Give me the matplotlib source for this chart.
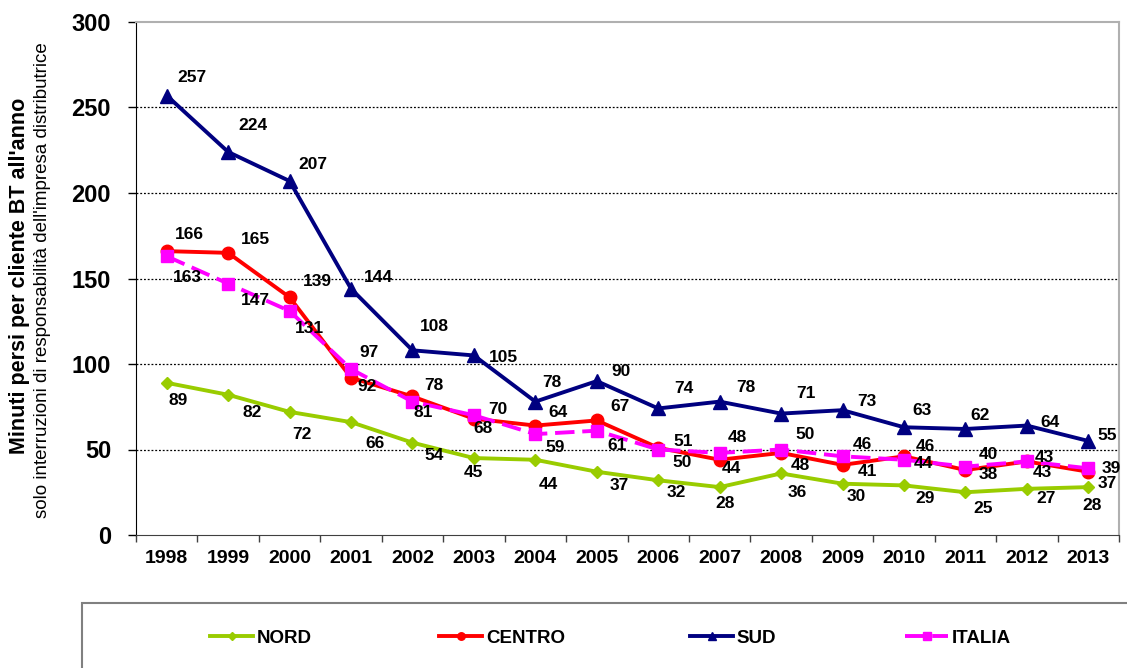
import matplotlib
matplotlib.use("Agg")
import matplotlib.pyplot as plt
from matplotlib.lines import Line2D
from matplotlib.patches import Rectangle

plt.rcParams['font.family'] = ['Liberation Sans', 'DejaVu Sans']

years = [str(y) for y in range(1998, 2014)]
nord = [89, 82, 72, 66, 54, 45, 44, 37, 32, 28, 36, 30, 29, 25, 27, 28]
centro = [166, 165, 139, 92, 81, 68, 64, 67, 51, 44, 48, 41, 46, 38, 43, 37]
sud = [257, 224, 207, 144, 108, 105, 78, 90, 74, 78, 71, 73, 63, 62, 64, 55]
italia = [163, 147, 131, 97, 78, 70, 59, 61, 50, 48, 50, 46, 44, 40, 43, 39]

# where each value label sits, pixels right / down from its point
off_nord = [(11, 18), (24, 18), (12, 23), (24, 21), (22, 13), (0, 14), (13, 25), (22, 14),
            (18, 12), (5, 16), (16, 19), (14, 13), (21, 13), (18, 16), (19, 10), (4, 18)]
off_centro = [(23, -17), (27, -13), (28, -16), (16, 9), (11, 16), (9, 10), (23, -13), (23, -14),
              (25, -6), (12, 9), (19, 13), (25, 7), (21, -10), (23, 4), (18, -4), (19, 12)]
off_sud = [(25, -18), (25, -26), (23, -17), (27, -11), (22, -24), (30, 2), (17, -19), (24, -10),
           (26, -20), (26, -14), (25, -20), (24, -9), (18, -17), (15, -13), (23, -3), (19, -5)]
off_italia = [(21, 21), (27, 17), (20, 18), (18, -17), (21, -16), (24, -6), (20, 13), (20, 15),
              (24, 13), (18, -15), (24, -15), (20, -12), (19, 4), (23, -12), (16, 11), (23, 0)]

W, H = 1127, 668
fig = plt.figure(figsize=(W / 100, H / 100), dpi=100)
ax = fig.add_axes([136 / W, 1 - 535 / H, (1119 - 136) / W, (535 - 22) / H])

x = list(range(len(years)))
series = [
    ("NORD", nord, off_nord, dict(color='#99CC00', marker='D', ms=6.5)),
    ("CENTRO", centro, off_centro, dict(color='#FF0000', marker='o', ms=9)),
    ("SUD", sud, off_sud, dict(color='#000080', marker='^', ms=10)),
    ("ITALIA", italia, off_italia, dict(color='#FF00FF', marker='s', ms=8.5, dashes=(5, 2))),
]

handles = []
for i, (name, vals, offs, st) in enumerate(series):
    ln, = ax.plot(x, vals, lw=2.8, zorder=3 + i, label=name, **st)
    handles.append(ln)
    for xi, v, (dx, dy) in zip(x, vals, offs):
        ax.annotate(str(v), (xi, v), xytext=(dx, -dy), textcoords='offset pixels',
                    ha='center', va='center', fontsize=12.5, fontweight='bold', zorder=10)

ax.set_xlim(-0.5, len(years) - 0.5)
ax.set_ylim(0, 300)
ax.set_yticks(range(0, 301, 50))
ax.set_yticklabels([str(v) for v in range(0, 301, 50)], fontsize=17, fontweight='bold')
for v in range(50, 300, 50):
    ax.axhline(v, color='black', lw=0.9, ls=(0, (1.5, 1.5)), zorder=1)

ax.set_xticks([i + 0.5 for i in range(-1, len(years))])
ax.set_xticklabels([])
ax.set_xticks(x, minor=True)
ax.set_xticklabels(years, minor=True, fontsize=14, fontweight='bold')
ax.tick_params(axis='x', which='major', length=5, width=1, color='#404040', direction='out')
ax.tick_params(axis='x', which='minor', length=0, pad=11)
ax.tick_params(axis='y', length=6, width=1, direction='out', pad=12)

ax.spines['left'].set_color('black')
ax.spines['bottom'].set_color('#404040')
for s in ['top', 'right']:
    ax.spines[s].set_color('#B0B0B0')
    ax.spines[s].set_linewidth(1.5)

fig.text(20 / W, 1 - 276 / H, "Minuti persi per cliente BT all'anno", rotation=90,
         ha='center', va='center', fontsize=15.5, fontweight='bold')
fig.text(43 / W, 1 - 280 / H, "solo interruzioni di responsabilità dell'impresa distributrice",
         rotation=90, ha='center', va='center', fontsize=13.5)

# legend frame runs off the picture at the right and bottom
fig.patches.append(Rectangle((82 / W, -0.1), 1.2, (668 - 603) / H + 0.1, transform=fig.transFigure,
                             fill=False, edgecolor='#808080', lw=1.5))
leg_x = [210, 439, 690, 905]
for h, lx in zip(handles, leg_x):
    fig.legend(handles=[h], loc='center left', bbox_to_anchor=(lx / W, 1 - 638 / H),
               frameon=False, handlelength=2.3, handletextpad=0.2, borderpad=0, borderaxespad=0,
               prop=dict(size=13.5, weight='bold'), markerscale=0.6)

fig.savefig("out.png", dpi=100)
